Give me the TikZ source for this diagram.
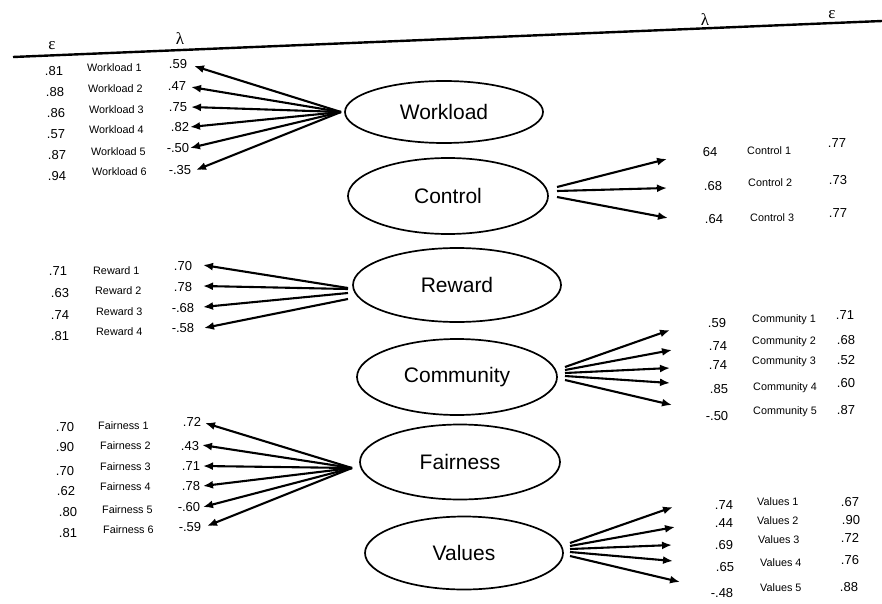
\documentclass[tikz,border=0pt]{standalone}
\usepackage{fontspec}
\setmainfont{Liberation Sans}
\newfontfamily\greekfont{Liberation Serif}
\usetikzlibrary{arrows.meta,shapes.geometric}
\begin{document}
\begin{tikzpicture}[x=1pt,y=-1pt,
  lat/.style={draw, ellipse, line width=1.7pt, inner sep=0pt, font=\fontsize{21}{24}\selectfont},
  num/.style={inner sep=0pt, font=\fontsize{13}{15}\selectfont},
  ind/.style={inner sep=0pt, anchor=west, font=\fontsize{10.8}{12}\selectfont},
  hdr/.style={inner sep=0pt, font=\greekfont\fontsize{17}{19}\selectfont},
  load/.style={line width=2.1pt, -{Latex[length=10pt,width=8pt]}},
]
\useasboundingbox (0,0) rectangle (882,604);

% top rule and headers
\coordinate (tl) at (13,57);
\coordinate (tr) at (882,21);
\draw[line width=2.4pt] (tl) -- (tr);
\node[hdr] (epsL) at (52,46) {ε};
\node[hdr] (lamL) at (180,39) {λ};
\node[hdr] (lamR) at (705,20) {λ};
\node[hdr] (epsR) at (832,15) {ε};

% latent variables
\node[lat, minimum width=198pt, minimum height=62pt] (W) at (444,112) {Workload};
\node[lat, minimum width=200pt, minimum height=76pt] (C) at (448,196) {Control};
\node[lat, minimum width=208pt, minimum height=74pt] (R) at (457,285) {Reward};
\node[lat, minimum width=200pt, minimum height=76pt] (M) at (457,377) {Community};
\node[lat, minimum width=200pt, minimum height=75pt] (F) at (460,462) {Fairness};
\node[lat, minimum width=198pt, minimum height=73pt] (V) at (464,553) {Values};

% ---------- Workload ----------
\node[num] (we1) at (54,71) {.81};
\node[num] (we2) at (55,92) {.88};
\node[num] (we3) at (56,113) {.86};
\node[num] (we4) at (56,134) {.57};
\node[num] (we5) at (57,155) {.87};
\node[num] (we6) at (57,176) {.94};
\node[ind] (wi1) at (87,68) {Workload 1};
\node[ind] (wi2) at (88,89) {Workload 2};
\node[ind] (wi3) at (89,110) {Workload 3};
\node[ind] (wi4) at (89,130) {Workload 4};
\node[ind] (wi5) at (91,152) {Workload 5};
\node[ind] (wi6) at (92,172) {Workload 6};
\node[num] (wl1) at (178,64) {.59};
\node[num] (wl2) at (177,86) {.47};
\node[num] (wl3) at (178,107) {.75};
\node[num] (wl4) at (180,127) {.82};
\node[num] (wl5) at (178,148) {-.50};
\node[num] (wl6) at (180,170) {-.35};
\coordinate (w0) at (341,112);
\coordinate (wt1) at (194,66);
\coordinate (wt2) at (191,87);
\coordinate (wt3) at (191,107);
\coordinate (wt4) at (190,127);
\coordinate (wt5) at (190,148);
\coordinate (wt6) at (196,170);
\foreach \i in {1,...,6} \draw[load] (w0) -- (wt\i);

% ---------- Control ----------
\node[num] (cl1) at (710,152) {64};
\node[num] (cl2) at (713,186) {.68};
\node[num] (cl3) at (714,219) {.64};
\node[ind] (ci1) at (747,151) {Control 1};
\node[ind] (ci2) at (748,183) {Control 2};
\node[ind] (ci3) at (750,218) {Control 3};
\node[num] (ce1) at (837,143) {.77};
\node[num] (ce2) at (838,180) {.73};
\node[num] (ce3) at (838,213) {.77};
\coordinate (cs1) at (557,187);
\coordinate (cs2) at (557,191);
\coordinate (cs3) at (557,197);
\coordinate (ct1) at (667,159);
\coordinate (ct2) at (667,188);
\coordinate (ct3) at (668,218);
\foreach \i in {1,2,3} \draw[load] (cs\i) -- (ct\i);

% ---------- Reward ----------
\node[num] (re1) at (58,271) {.71};
\node[num] (re2) at (60,293) {.63};
\node[num] (re3) at (60,315) {.74};
\node[num] (re4) at (60,336) {.81};
\node[ind] (ri1) at (93,271) {Reward 1};
\node[ind] (ri2) at (95,291) {Reward 2};
\node[ind] (ri3) at (96,312) {Reward 3};
\node[ind] (ri4) at (96,332) {Reward 4};
\node[num] (rl1) at (183,266) {.70};
\node[num] (rl2) at (183,287) {.78};
\node[num] (rl3) at (183,308) {-.68};
\node[num] (rl4) at (183,328) {-.58};
\coordinate (rs1) at (348,288);
\coordinate (rs2) at (348,289);
\coordinate (rs3) at (348,293);
\coordinate (rs4) at (348,299);
\coordinate (rt1) at (203,265);
\coordinate (rt2) at (203,286);
\coordinate (rt3) at (203,307);
\coordinate (rt4) at (204,328);
\foreach \i in {1,...,4} \draw[load] (rs\i) -- (rt\i);

% ---------- Community ----------
\node[num] (ml1) at (717,323) {.59};
\node[num] (ml2) at (718,346) {.74};
\node[num] (ml3) at (718,365) {.74};
\node[num] (ml4) at (719,389) {.85};
\node[num] (ml5) at (717,416) {-.50};
\node[ind] (mi1) at (752,320) {Community 1};
\node[ind] (mi2) at (752,342) {Community 2};
\node[ind] (mi3) at (752,362) {Community 3};
\node[ind] (mi4) at (753,388) {Community 4};
\node[ind] (mi5) at (753,412) {Community 5};
\node[num] (me1) at (845,315) {.71};
\node[num] (me2) at (846,340) {.68};
\node[num] (me3) at (846,360) {.52};
\node[num] (me4) at (846,383) {.60};
\node[num] (me5) at (846,410) {.87};
\coordinate (ms1) at (565,367);
\coordinate (ms2) at (565,370);
\coordinate (ms3) at (565,373);
\coordinate (ms4) at (565,376);
\coordinate (ms5) at (565,380);
\coordinate (mt1) at (670,330);
\coordinate (mt2) at (672,350);
\coordinate (mt3) at (670,368);
\coordinate (mt4) at (670,383);
\coordinate (mt5) at (672,405);
\foreach \i in {1,...,5} \draw[load] (ms\i) -- (mt\i);

% ---------- Fairness ----------
\node[num] (fe1) at (65,427) {.70};
\node[num] (fe2) at (65,447) {.90};
\node[num] (fe3) at (65,471) {.70};
\node[num] (fe4) at (66,491) {.62};
\node[num] (fe5) at (68,512) {.80};
\node[num] (fe6) at (68,533) {.81};
\node[ind] (fi1) at (98,426) {Fairness 1};
\node[ind] (fi2) at (100,446) {Fairness 2};
\node[ind] (fi3) at (100,467) {Fairness 3};
\node[ind] (fi4) at (100,487) {Fairness 4};
\node[ind] (fi5) at (102,510) {Fairness 5};
\node[ind] (fi6) at (103,530) {Fairness 6};
\node[num] (fl1) at (192,422) {.72};
\node[num] (fl2) at (190,446) {.43};
\node[num] (fl3) at (191,466) {.71};
\node[num] (fl4) at (191,486) {.78};
\node[num] (fl5) at (189,507) {-.60};
\node[num] (fl6) at (190,527) {-.59};
\coordinate (f0) at (352,468);
\coordinate (ft1) at (205,423);
\coordinate (ft2) at (202,445);
\coordinate (ft3) at (203,466);
\coordinate (ft4) at (203,486);
\coordinate (ft5) at (203,507);
\coordinate (ft6) at (207,526);
\foreach \i in {1,...,6} \draw[load] (f0) -- (ft\i);

% ---------- Values ----------
\node[num] (vl1) at (724,505) {.74};
\node[num] (vl2) at (724,523) {.44};
\node[num] (vl3) at (724,545) {.69};
\node[num] (vl4) at (725,567) {.65};
\node[num] (vl5) at (722,593) {-.48};
\node[ind] (vi1) at (757,502) {Values 1};
\node[ind] (vi2) at (757,521) {Values 2};
\node[ind] (vi3) at (758,540) {Values 3};
\node[ind] (vi4) at (760,563) {Values 4};
\node[ind] (vi5) at (760,588) {Values 5};
\node[num] (ve1) at (850,502) {.67};
\node[num] (ve2) at (851,520) {.90};
\node[num] (ve3) at (850,538) {.72};
\node[num] (ve4) at (850,560) {.76};
\node[num] (ve5) at (849,587) {.88};
\coordinate (vs1) at (570,543);
\coordinate (vs2) at (570,546);
\coordinate (vs3) at (570,549);
\coordinate (vs4) at (570,552);
\coordinate (vs5) at (570,556);
\coordinate (vt1) at (673,507);
\coordinate (vt2) at (675,527);
\coordinate (vt3) at (672,545);
\coordinate (vt4) at (673,561);
\coordinate (vt5) at (680,582);
\foreach \i in {1,...,5} \draw[load] (vs\i) -- (vt\i);
\end{tikzpicture}
\end{document}
